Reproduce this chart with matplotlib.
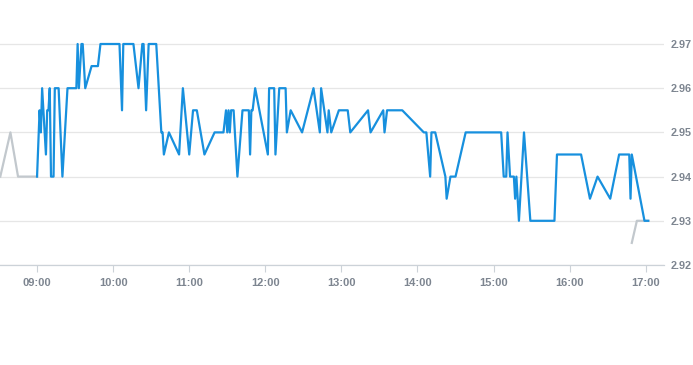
import matplotlib
matplotlib.use("Agg")
import matplotlib.pyplot as plt

# intraday price, blue = regular session, gray = pre/post market
times = ["09:00", "09:02", "09:03", "09:04", "09:07", "09:08", "09:09", "09:10", "09:11", "09:13",
         "09:14", "09:17", "09:20", "09:24", "09:31", "09:32", "09:33", "09:35", "09:36", "09:38",
         "09:43", "09:48", "09:50", "10:05", "10:07", "10:08", "10:16", "10:20", "10:23", "10:24",
         "10:26", "10:28", "10:34", "10:38", "10:39", "10:40", "10:44", "10:52", "10:55", "11:00",
         "11:03", "11:06", "11:12", "11:20", "11:27", "11:29", "11:30", "11:31", "11:32", "11:33",
         "11:35", "11:38", "11:42", "11:47", "11:48", "11:49", "11:50", "11:52", "12:02", "12:03",
         "12:07", "12:08", "12:11", "12:16", "12:17", "12:20", "12:29", "12:38", "12:43", "12:44",
         "12:49", "12:50", "12:52", "12:58", "13:05", "13:07", "13:21", "13:23", "13:33", "13:34",
         "13:36", "13:48", "14:05", "14:07", "14:10", "14:11", "14:14", "14:22", "14:23", "14:26",
         "14:30", "14:38", "15:06", "15:08", "15:10", "15:11", "15:13", "15:16", "15:17", "15:18",
         "15:20", "15:24", "15:29", "15:48", "15:50", "16:09", "16:16", "16:22", "16:32", "16:39",
         "16:47", "16:48", "16:49", "16:59", "17:02"]
prices = [2.94, 2.955, 2.95, 2.96, 2.945, 2.955, 2.955, 2.96, 2.94, 2.94,
          2.96, 2.96, 2.94, 2.96, 2.96, 2.97, 2.96, 2.97, 2.97, 2.96,
          2.965, 2.965, 2.97, 2.97, 2.955, 2.97, 2.97, 2.96, 2.97, 2.97,
          2.955, 2.97, 2.97, 2.95, 2.95, 2.945, 2.95, 2.945, 2.96, 2.945,
          2.955, 2.955, 2.945, 2.95, 2.95, 2.955, 2.95, 2.955, 2.95, 2.955,
          2.955, 2.94, 2.955, 2.955, 2.945, 2.955, 2.955, 2.96, 2.945, 2.96,
          2.96, 2.945, 2.96, 2.96, 2.95, 2.955, 2.95, 2.96, 2.95, 2.96,
          2.95, 2.955, 2.95, 2.955, 2.955, 2.95, 2.955, 2.95, 2.955, 2.95,
          2.955, 2.955, 2.95, 2.95, 2.94, 2.95, 2.95, 2.94, 2.935, 2.94,
          2.94, 2.95, 2.95, 2.94, 2.94, 2.95, 2.94, 2.94, 2.935, 2.94,
          2.93, 2.95, 2.93, 2.93, 2.945, 2.945, 2.935, 2.94, 2.935, 2.945,
          2.945, 2.935, 2.945, 2.93, 2.93]

pre_times = ["08:31", "08:39", "08:45", "09:00"]
pre_prices = [2.94, 2.95, 2.94, 2.94]
post_times = ["16:49", "16:53", "17:02"]
post_prices = [2.925, 2.93, 2.93]

y_ticks = [2.92, 2.93, 2.94, 2.95, 2.96, 2.97]
x_labels = ["09:00", "10:00", "11:00", "12:00", "13:00", "14:00", "15:00", "16:00", "17:00"]


def to_hours(t):
    h, m = t.split(":")
    return int(h) + int(m) / 60.0


fig = plt.figure(figsize=(6.93, 3.65), dpi=100)
ax = fig.add_axes([0, 100 / 365, 664 / 693, 265 / 365])

ax.plot([to_hours(t) for t in pre_times], pre_prices, color="#c2c8cd", linewidth=1.6)
ax.plot([to_hours(t) for t in post_times], post_prices, color="#c2c8cd", linewidth=1.6)
ax.plot([to_hours(t) for t in times], prices, color="#1790de", linewidth=1.6)

ax.set_xlim(8.513, 17.24)
ax.set_ylim(2.92, 2.97 + 0.01 * 44 / 44.2)

ax.set_yticks(y_ticks)
ax.set_yticklabels(["%.2f" % v for v in y_ticks])
ax.set_xticks([to_hours(t) for t in x_labels])
ax.set_xticklabels(x_labels)

ax.grid(axis="y", color="#e6e6e6", linewidth=0.9)
ax.set_axisbelow(True)
for s in ["top", "left", "right"]:
    ax.spines[s].set_visible(False)
ax.spines["bottom"].set_color("#ccd2d8")
ax.spines["bottom"].set_linewidth(0.9)

ax.yaxis.tick_right()
ax.tick_params(axis="y", length=0, pad=5, labelsize=7.8, labelcolor="#7d8590")
ax.tick_params(axis="x", length=5, width=0.8, color="#ccd2d8", pad=4,
               labelsize=8, labelcolor="#7d8590")
for lab in ax.get_xticklabels() + ax.get_yticklabels():
    lab.set_fontfamily("Liberation Sans")
    lab.set_fontweight("bold")

fig.savefig("out.png", dpi=100)
